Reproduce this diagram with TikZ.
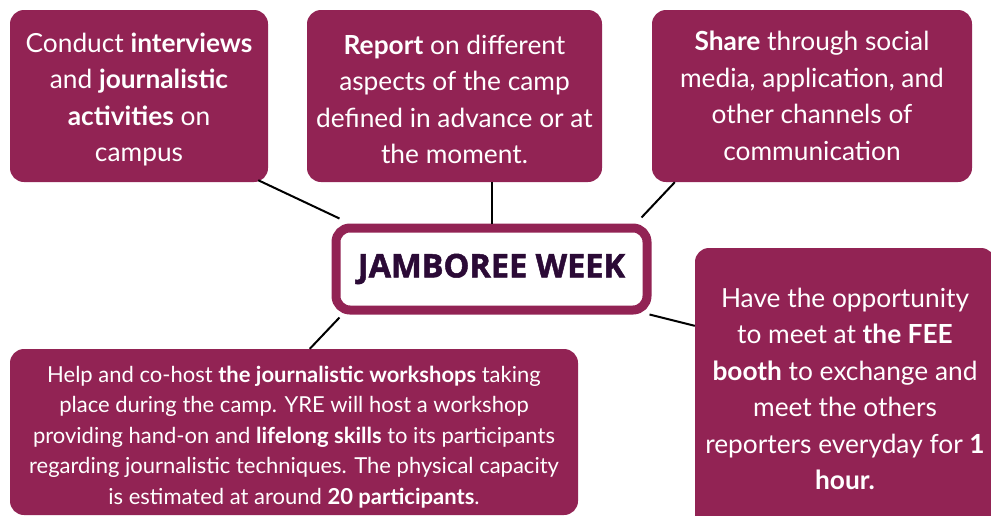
\documentclass[tikz,border=0pt]{standalone}
\usepackage{fontspec}
\setmainfont{Lato}
\newfontfamily\titlefont{Open Sans}[BoldFeatures={FakeBold=1.5}]
\usetikzlibrary{positioning}
\definecolor{plum}{HTML}{922354}
\definecolor{ink}{HTML}{2B0A36}
\newcommand{\toppad}[1]{\rule{0pt}{#1}}
\tikzset{
  card/.style={fill=plum, rounded corners=14pt, text=white, align=center,
    inner sep=0pt, font=\fontsize{26.3}{36.5}\selectfont},
  hub/.style={draw=plum, line width=9pt, fill=white, rounded corners=14pt,
    text=ink, inner sep=0pt, font=\titlefont\bfseries\fontsize{32.5}{36}\selectfont},
  link/.style={line width=2pt, black}
}
\begin{document}
\begin{tikzpicture}[x=1pt,y=-1pt]
\useasboundingbox (0,0) rectangle (991,515);
% centre
\node[hub, minimum width=311pt, minimum height=82pt] (week) at (491.5,269) {JAMBOREE WEEK};
% top row
\node[card, minimum width=258pt, minimum height=172pt] (interviews) at (139,96)
  {\toppad{26pt}Conduct \textbf{interviews}\\and \textbf{journalistic}\\\textbf{activities} on\\campus};
\node[card, minimum width=295pt, minimum height=172pt] (report) at (454.5,96)
  {\toppad{26pt}\textbf{Report} on different\\aspects of the camp\\defined in advance or at\\the moment.};
\node[card, minimum width=320pt, minimum height=172pt] (share) at (812,96)
  {\textbf{Share} through social\\media, application, and\\other channels of\\communication};
% bottom row
\node[card, minimum width=300pt, minimum height=282pt] (booth) at (845,389)
  {Have the opportunity\\to meet at \textbf{the FEE}\\\textbf{booth} to exchange and\\meet the others\\reporters everyday for \textbf{1}\\\textbf{hour.}};
\node[card, minimum width=568pt, minimum height=166pt, font=\fontsize{22}{30.5}\selectfont] (workshop) at (294,432)
  {\toppad{26pt}Help and co-host \textbf{the journalistic workshops} taking\\place during the camp. YRE will host a workshop\\providing hand-on and \textbf{lifelong skills} to its participants\\regarding journalistic techniques. The physical capacity\\is estimated at around \textbf{20 participants}.};
% connectors
\draw[link] ([xshift=-10pt,yshift=2pt]interviews.south east) -- ([xshift=8pt,yshift=5pt]week.north west);
\draw[link] (report.south -| week.north) -- (week.north);
\draw[link] ([xshift=23pt,yshift=0pt]share.south west) -- ([xshift=-10pt,yshift=6pt]week.north east);
\draw[link] ([xshift=8pt,yshift=-3pt]week.south west) -- ([xshift=300pt,yshift=0pt]workshop.north west);
\draw[link] ([xshift=-2pt,yshift=0pt]week.south east) -- ([yshift=-78pt]booth.north west);
\end{tikzpicture}
\end{document}
